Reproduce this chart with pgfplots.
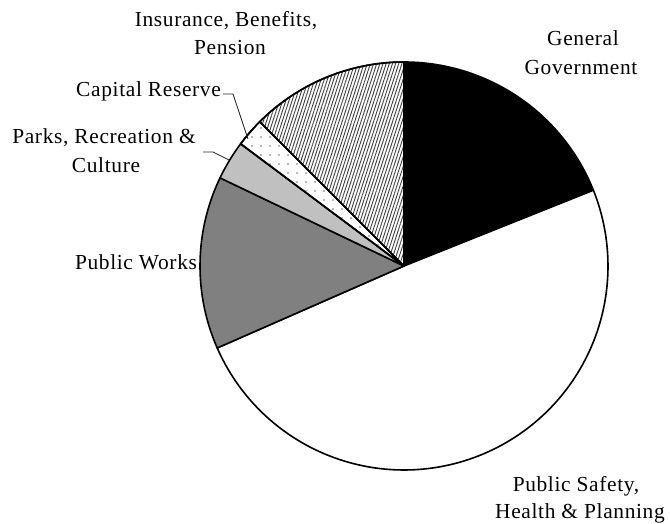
\documentclass[border=0pt]{standalone}
\usepackage{pgfplots}
\pgfplotsset{compat=1.18}
\usetikzlibrary{patterns.meta}
\usepackage{fontspec}
\setmainfont{Liberation Serif}[LetterSpace=3]
\definecolor{lightg}{HTML}{C0C0C0}
\definecolor{darkg}{HTML}{808080}
\begin{document}
% Slice angles (degrees, counter-clockwise from east):
% General Government 18.9%, Public Safety/Health & Planning 49.5%, Public Works 13.7%,
% Parks/Recreation & Culture 3.1%, Capital Reserve 2.3%, Insurance/Benefits/Pension 12.5%
\begin{tikzpicture}
\useasboundingbox (0,0) rectangle (670bp,524bp);
\begin{axis}[
  at={(0,0)}, anchor=south west,
  width=670bp, height=524bp, scale only axis,
  xmin=-404, xmax=266, ymin=-258, ymax=266,
  hide axis, clip=false,
]
\pgfplotsset{every axis plot/.append style={line width=1.6bp, draw=black, line join=round}}
% General Government
\addplot[fill=black, domain=21.8:90, samples=60, data cs=polar] ({x},{204}) -- (axis cs:0,0) -- cycle;
% Public Safety, Health & Planning
\addplot[fill=white, domain=-156.3:21.8, samples=150, data cs=polar] ({x},{204}) -- (axis cs:0,0) -- cycle;
% Public Works
\addplot[fill=darkg, domain=154.4:203.7, samples=50, data cs=polar] ({x},{204}) -- (axis cs:0,0) -- cycle;
% Parks, Recreation & Culture
\addplot[fill=lightg, domain=143.2:154.4, samples=15, data cs=polar] ({x},{204}) -- (axis cs:0,0) -- cycle;
% Capital Reserve
\addplot[fill=white, postaction={pattern={Dots[distance=9bp, radius=0.9bp]}, pattern color=black!55}, domain=135:143.2, samples=12, data cs=polar] ({x},{204}) -- (axis cs:0,0) -- cycle;
% Insurance, Benefits, Pension
\addplot[fill=white, postaction={pattern={Lines[angle=72, distance=3bp, line width=0.9bp]}, pattern color=black!75}, domain=90:135, samples=45, data cs=polar] ({x},{204}) -- (axis cs:0,0) -- cycle;
% leader lines
\addplot[line width=0.8bp, black!85] coordinates {(-181,172) (-171,172) (-156,127)};
\addplot[line width=0.8bp, black!85] coordinates {(-201,114) (-191,114) (-175,106)};
% labels
\begin{scope}[every node/.style={font=\fontsize{21.5}{28}\selectfont, inner sep=0pt}]
\node[anchor=base] at (axis cs:-178,239) {Insurance, Benefits,};
\node[anchor=base] at (axis cs:-174,211) {Pension};
\node[anchor=base east] at (axis cs:-183,169) {Capital Reserve};
\node[anchor=base] at (axis cs:-300,122) {Parks, Recreation \&};
\node[anchor=base] at (axis cs:-298,93) {Culture};
\node[anchor=base] at (axis cs:-268,-4) {Public Works};
\node[anchor=base] at (axis cs:179,220) {General};
\node[anchor=base] at (axis cs:177,191) {Government};
\node[anchor=base] at (axis cs:172,-226) {Public Safety,};
\node[anchor=base] at (axis cs:176,-252) {Health \& Planning};
\end{scope}
\end{axis}
\end{tikzpicture}
\end{document}
